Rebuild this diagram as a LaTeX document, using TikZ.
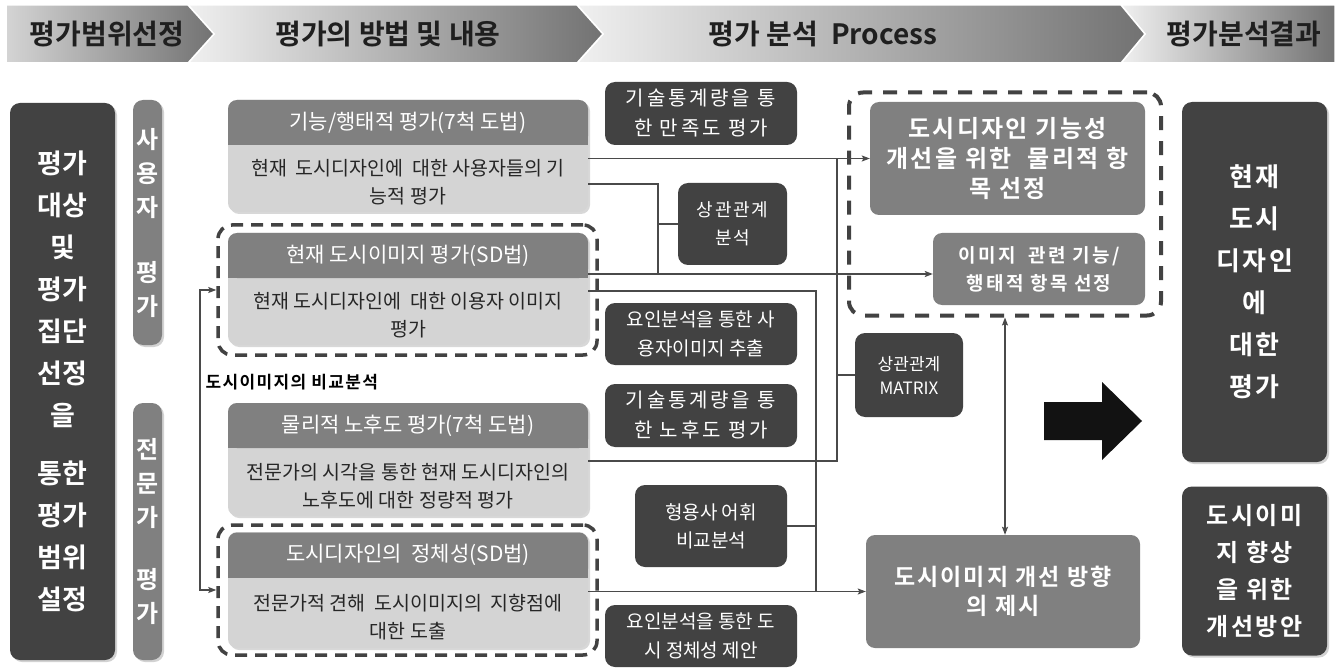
\documentclass[tikz,border=0pt]{standalone}
\usepackage{fontspec}
\setmainfont{Noto Sans CJK KR}[BoldFont={Noto Sans CJK KR Bold}]
\usetikzlibrary{arrows.meta,calc,positioning,shadows}
\definecolor{boxdark}{HTML}{424242}
\definecolor{boxmid}{HTML}{808080}
\definecolor{boxlight}{HTML}{D4D4D4}
\definecolor{linegray}{HTML}{4A4A4A}
\definecolor{bandlight}{HTML}{F0F0F0}
\definecolor{banddark}{HTML}{727272}
\newcommand{\fs}[2]{\fontsize{#1}{#2}\selectfont}
\newcommand{\ls}[1]{\addfontfeature{LetterSpace=#1}}

\begin{document}
\begin{tikzpicture}[x=1pt,y=-1pt,>={Stealth[length=8pt,width=6pt,inset=1.5pt]},
    bandtext/.style={text=black!88,font=\bfseries\fs{28}{30}},
    darkbox/.style={fill=boxdark,text=white,rounded corners=10pt,align=center,inner sep=0pt},
    sidebox/.style={darkbox,drop shadow={shadow xshift=2pt,shadow yshift=-2pt,opacity=.35}},
    graybox/.style={fill=boxmid,text=white,rounded corners=9pt,align=center,inner sep=0pt},
    cardbox/.style={fill=boxlight,rounded corners=9pt,minimum width=360pt,inner sep=0pt,
      drop shadow={shadow xshift=2pt,shadow yshift=-2pt,opacity=.3}},
    cardhead/.style={fill=boxmid,text=white,rounded corners=9pt,minimum width=360pt,
      minimum height=45pt,inner sep=0pt,font=\fs{21}{24}},
    cardtext/.style={text=black!85,align=center,font=\fs{19.5}{28}},
    dashbox/.style={draw=boxdark,line width=3.5pt,dash pattern=on 12pt off 8pt,
      rounded corners=14pt,inner sep=0pt},
    link/.style={draw=linegray,line width=1.3pt}
  ]
  \fill[white] (0,0) rectangle (1335,668);
  \useasboundingbox (0,0) rectangle (1335,668);

  % header band
  \shadedraw[left color=bandlight,right color=banddark,draw=white,line width=1.5pt]
    (1121,5) -- (1335,5) -- (1335,63) -- (1121,63) -- (1145,34) -- cycle;
  \shadedraw[left color=bandlight,right color=banddark,draw=white,line width=1.5pt]
    (577,5) -- (1121,5) -- (1145,34) -- (1121,63) -- (577,63) -- (603,34) -- cycle;
  \shadedraw[left color=bandlight,right color=banddark,draw=white,line width=1.5pt]
    (188,5) -- (577,5) -- (603,34) -- (577,63) -- (188,63) -- (214,34) -- cycle;
  \shadedraw[left color=boxlight,right color=banddark,draw=white,line width=1.5pt]
    (6,5) -- (188,5) -- (214,34) -- (188,63) -- (6,63) -- cycle;
  \node[bandtext] (hd1) at (107,34) {평가범위선정};
  \node[bandtext] (hd2) at (388,34) {평가의 방법 및 내용};
  \node[bandtext] (hd3) at (823,34) {평가 분석~~Process};
  \node[bandtext] (hd4) at (1244,34) {평가분석결과};

  % left column
  \node[sidebox,minimum width=105pt,minimum height=557pt,font=\bfseries\fs{27}{42}] (scope)
    at (62.5,381.5) {평가\\대상\\및\\평가\\집단\\선정\\을\\[16pt]통한\\평가\\범위\\설정};
  \node[sidebox,fill=boxmid,minimum width=29pt,minimum height=245pt,font=\bfseries\fs{24}{34}] (usr)
    at (147.5,222.5) {사\\용\\자\\[31pt]평\\가};
  \node[sidebox,fill=boxmid,minimum width=29pt,minimum height=257pt,font=\bfseries\fs{24}{34}] (exp)
    at (147.5,531.5) {전\\문\\가\\[28pt]평\\가};

  % evaluation cards
  \node[dashbox,minimum width=379pt,minimum height=130pt] (g2) at (407.5,290) {};
  \node[dashbox,minimum width=379pt,minimum height=130pt] (g4) at (407.5,590) {};

  \node[cardbox,minimum height=112pt] (c1) at (408,156) {};
  \fill[boxmid] ($(c1.north west)+(0,23)$) rectangle ($(c1.north east)+(0,45)$);
  \node[cardhead] (c1h) at (408,122.5) {기능/행태적 평가(7척 도법)};
  \node[cardtext] (c1t) at (408,182) {현재~~도시디자인에~~대한 사용자들의 기\\능적 평가};

  \node[cardbox,minimum height=112pt] (c2) at (408,289) {};
  \fill[boxmid] ($(c2.north west)+(0,23)$) rectangle ($(c2.north east)+(0,45)$);
  \node[cardhead] (c2h) at (408,255.5) {현재 도시이미지 평가(SD법)};
  \node[cardtext] (c2t) at (408,315) {현재 도시디자인에~~대한 이용자 이미지\\평가};

  \node[cardbox,minimum height=113pt] (c3) at (408,459.5) {};
  \fill[boxmid] ($(c3.north west)+(0,23)$) rectangle ($(c3.north east)+(0,45)$);
  \node[cardhead] (c3h) at (408,425.5) {물리적 노후도 평가(7척 도법)};
  \node[cardtext] (c3t) at (408,486) {전문가의 시각을 통한 현재 도시디자인의\\노후도에 대한 정량적 평가};

  \node[cardbox,minimum height=116pt] (c4) at (408,590) {};
  \fill[boxmid] ($(c4.north west)+(0,23)$) rectangle ($(c4.north east)+(0,46)$);
  \node[cardhead] (c4h) at (408,555) {도시디자인의~~정체성(SD법)};
  \node[cardtext] (c4t) at (408,617) {전문가적 견해~~도시이미지의~~지향점에\\대한 도출};

  \node[anchor=west,text=black,font=\bfseries\fs{17}{20}\ls{8}] (cmp) at (202,382) {도시이미지의 비교분석};
  \coordinate (brk) at (200,0);
  \draw[link,<->] (g2.west) -- (g2.west -| brk) -- (g4.west -| brk) -- (g4.west);

  % analysis boxes
  \node[darkbox,minimum width=192pt,minimum height=63pt,font=\fs{20}{30}\ls{14}] (stat1) at (701,113.5) {기술통계량을 통\\한 만족도 평가};
  \node[darkbox,minimum width=109pt,minimum height=82pt,font=\fs{18}{28}\ls{10}] (cor1) at (732.5,224) {상관관계\\분석};
  \node[darkbox,minimum width=192pt,minimum height=62pt,font=\fs{19}{29}] (fac1) at (701,334) {요인분석을 통한 사\\용자이미지 추출};
  \node[darkbox,minimum width=192pt,minimum height=63pt,font=\fs{20}{30}\ls{14}] (stat2) at (701,415.5) {기술통계량을 통\\한 노후도 평가};
  \node[darkbox,minimum width=152pt,minimum height=82pt,font=\fs{19}{28}] (adj) at (711,526) {형용사 어휘\\비교분석};
  \node[darkbox,minimum width=192pt,minimum height=62pt,font=\fs{19}{29}] (fac2) at (701,636) {요인분석을 통한 도\\시 정체성 제안};
  \node[darkbox,minimum width=108pt,minimum height=84pt,font=\fs{17}{24}] (mtx) at (909,375) {상관관계\\MATRIX};

  % results of the process
  \node[dashbox,line width=4pt,dash pattern=on 14pt off 11pt,minimum width=312pt,minimum height=223pt] (sel) at (1005,204) {};
  \node[graybox,minimum width=275pt,minimum height=113pt,font=\bfseries\fs{24}{30}\ls{10}] (fn) at (1007.5,158.5) {도시디자인 기능성\\개선을 위한~~물리적 항\\목 선정};
  \node[graybox,minimum width=212pt,minimum height=72pt,font=\bfseries\fs{19}{28}\ls{12}] (img) at (1039,269) {이미지~~관련 기능/\\행태적 항목 선정};
  \node[graybox,minimum width=274pt,minimum height=113pt,font=\bfseries\fs{23}{29}\ls{9}] (dir) at (1003,591.5) {도시이미지 개선 방향\\의 제시};

  \node[sidebox,minimum width=145pt,minimum height=360pt,font=\bfseries\fs{26}{42}\ls{10}] (cur) at (1254.5,282) {현재\\도시\\디자인\\에\\대한\\평가};
  \node[sidebox,minimum width=145pt,minimum height=169pt,font=\bfseries\fs{24}{37}\ls{10}] (imp) at (1254.5,571) {도시이미\\지 향상\\을 위한\\개선방안};

  \fill[black!93] (1044,402) -- (1102,402) -- (1102,382) -- (1142,421) -- (1102,460) -- (1102,440) -- (1044,440) -- cycle;

  % connectors
  \coordinate (v1) at (658,0);
  \coordinate (v2) at (816,0);
  \coordinate (v3) at (837,0);
  \coordinate (v4) at (1005,0);
  \draw[link,->] (c1.east |- fn.west) -- (fn.west);
  \draw[link] (c1.east |- 0,184) -| (v1 |- 0,274);
  \draw[link] (cor1.west) -- (cor1.west -| v1);
  \draw[link,->] (c2.east |- 0,274) -- (img.west |- 0,274);
  \draw[link] (c2.east |- 0,291) -| (v2 |- dir.west);
  \draw[link] (adj.east) -- (adj.east -| v2);
  \draw[link] (c3.east |- 0,461) -| (v3 |- fn.west);
  \draw[link] (mtx.west) -- (mtx.west -| v3);
  \draw[link,->] (c4.east |- dir.west) -- (dir.west);
  \draw[link,<->] (sel.south -| v4) -- (dir.north -| v4);
\end{tikzpicture}
\end{document}
